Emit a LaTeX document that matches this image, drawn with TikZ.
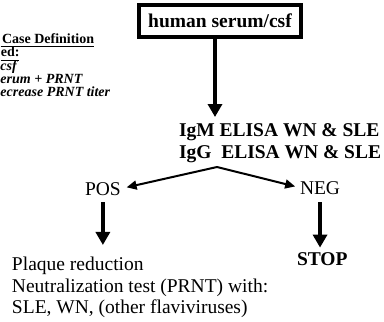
\documentclass[tikz,border=0pt]{standalone}
\usepackage{fontspec}
\setmainfont{Liberation Serif}
\usetikzlibrary{arrows.meta}
\begin{document}
\begin{tikzpicture}[x=1pt,y=-1pt,
  txt/.style={inner sep=0pt,outer sep=0pt,anchor=base west,font=\fontsize{19.5}{22}\selectfont},
  btxt/.style={inner sep=0pt,outer sep=0pt,anchor=base west,font=\fontsize{19.5}{22}\selectfont\bfseries},
  sidetxt/.style={inner sep=0pt,outer sep=0pt,anchor=base west,font=\fontsize{14}{14}\selectfont\bfseries},
  sideit/.style={sidetxt,font=\fontsize{14}{14}\selectfont\bfseries\itshape},
  uline/.style={line width=1.3pt},
  bigarrow/.style={line width=3.6pt,-{Triangle[length=13pt,width=14pt]}},
  smallarrow/.style={line width=2pt,-{Triangle[length=10pt,width=9pt]}},
  srcbox/.style={draw,line width=4pt,inner sep=0pt,outer sep=0pt,minimum width=162pt,minimum height=32pt,font=\fontsize{19.5}{22}\selectfont\bfseries}
  ]
\useasboundingbox (0,0) rectangle (384,322);

% left side case definition fragments
\node[sidetxt] (cd) at (2,43.3) {Case Definition};
\draw[uline] (0.5,46.8) -- ([yshift=-3.5pt]cd.base east);
\node[sidetxt] (ed) at (0.8,56.7) {ed:};
\draw[uline] (0.5,60.2) -- ([yshift=-3.5pt]ed.base east);
\node[sideit] (l3) at (0.5,70) {csf};
\node[sideit] (l4) at (0.5,83.3) {erum + PRNT};
\node[sideit] (l5) at (0.5,96.7) {ecrease PRNT titer};

% source box
\node[srcbox] (src) at (220,21) {human serum/csf};

% ELISA
\node[btxt] (ig1) at (179,136) {IgM ELISA WN \& SLE};
\node[btxt] (ig2) at (179,158) {IgG\ \ ELISA WN \& SLE};
\coordinate (t1) at (215,117);
\draw[bigarrow] (src.south -| t1) -- (t1);

% branches
\coordinate (fork) at (217,167);
\node[txt] (pos) at (85,195) {POS};
\node[txt] (neg) at (300,194) {NEG};
\draw[smallarrow,shorten >=6pt] (fork) -- (pos.east);
\draw[smallarrow,shorten >=5pt] (fork) -- (neg.west);

% results
\node[btxt] (stop) at (297,265) {STOP};
\node[txt] (pq1) at (12,270) {Plaque reduction};
\node[txt] (pq2) at (12,292) {Neutralization test (PRNT) with:};
\node[txt] (pq3) at (12,313) {SLE, WN, (other flaviviruses)};

\draw[bigarrow,shorten <=7pt,shorten >=11.5pt] (pos.south) -- (pos.south |- pq1.north);
\draw[bigarrow,shorten <=8pt,shorten >=4.5pt] (neg.south) -- (neg.south |- stop.north);
\end{tikzpicture}
\end{document}
